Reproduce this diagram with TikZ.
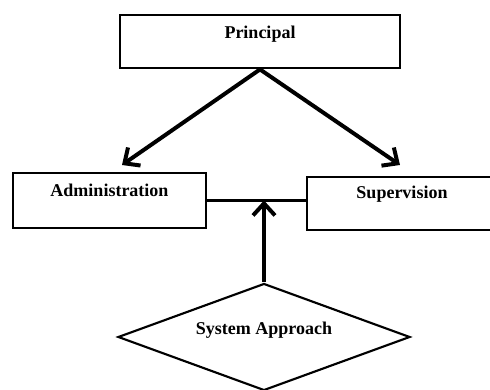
\documentclass[tikz,border=0pt]{standalone}
\usepackage{fontspec}
\setmainfont{Liberation Serif}
\usepackage{tikz}
\usetikzlibrary{arrows.meta,shapes.geometric}
\tikzset{
	box/.style={draw, line width=1mm, inner sep=0pt, font=\bfseries\fontsize{18}{21}\selectfont},
	link/.style={line width=1.4mm, -{Straight Barb[length=12pt,width=22pt]}}
}

\begin{document}
\begin{tikzpicture}[x=1pt, y=1pt]
			%%%%% START %%%%%
			
			\useasboundingbox (0, 0) rectangle (490, 390);
			\clip (0, 0) rectangle (490, 390);
			
			\node[box, minimum width=280, text height=24, text depth=29] (prin) at (260, 348.5) {Principal};
			
			\node[box, line width=0.9mm, minimum width=193, text height=24, text depth=31] (adm) at (109.5, 189.5) {Administration};
			\node[box, line width=0.9mm, minimum width=190, text height=22, text depth=31] (sup) at (402, 186.5) {Supervision};
			
			\node[box, diamond, aspect=2.73, line width=0.75mm, minimum width=292, minimum height=107, text height=8, text depth=12] (sys) at (264, 53) {System Approach};
			
			\coordinate (admtip) at (122, 225);
			\coordinate (suptip) at (400, 225);
			
			\draw[link] (prin.south) -- (admtip);
			\draw[link] (prin.south) -- (suptip);
			
			\draw[line width=0.8mm] (adm.east) -- (adm.east -| sup.west);
			\draw[link] (sys.north) -- (sys.north |- adm.east);
			
			%%%%% END %%%%%
\end{tikzpicture}
\end{document}
